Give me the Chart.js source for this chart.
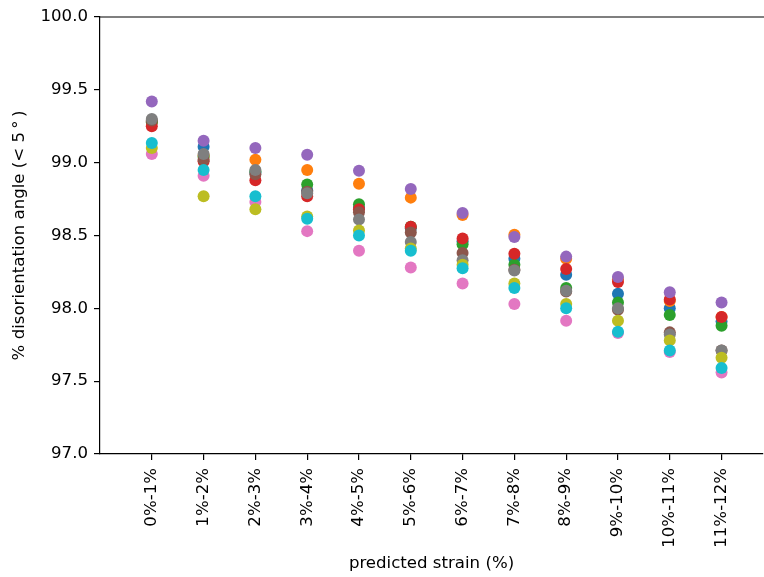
<!DOCTYPE html>
<html>
<head>
<meta charset="utf-8">
<script src="https://cdn.jsdelivr.net/npm/chart.js@4/dist/chart.umd.min.js"></script>
<style>
  html, body { margin: 0; padding: 0; background: #fff; }
  #wrap { width: 764px; height: 577px; }
</style>
</head>
<body>
<div id="wrap"><canvas id="chart" width="764" height="577"></canvas></div>
<script>
const categories = ['0%-1%', '1%-2%', '2%-3%', '3%-4%', '4%-5%', '5%-6%',
  '6%-7%', '7%-8%', '8%-9%', '9%-10%', '10%-11%', '11%-12%'];
const yTicks = [97.0, 97.5, 98.0, 98.5, 99.0, 99.5, 100.0];

// one array per run, tab10 colour order
const runBlue   = [99.28, 99.11, 98.93, 98.81, 98.69, 98.55, 98.46, 98.34, 98.23, 98.10, 98.00, 97.91];
const runOrange = [99.28, 99.05, 99.02, 98.95, 98.855, 98.76, 98.64, 98.505, 98.34, 98.20, 98.05, 97.94];
const runGreen  = [99.28, 99.04, 98.94, 98.85, 98.715, 98.56, 98.44, 98.30, 98.14, 98.04, 97.955, 97.88];
const runRed    = [99.25, 99.01, 98.88, 98.77, 98.68, 98.56, 98.48, 98.375, 98.27, 98.18, 98.06, 97.94];
const runPurple = [99.42, 99.15, 99.10, 99.055, 98.945, 98.82, 98.655, 98.49, 98.355, 98.215, 98.11, 98.04];
const runBrown  = [99.29, 99.02, 98.92, 98.80, 98.66, 98.52, 98.38, 98.265, 98.115, 97.99, 97.835, 97.71];
const runPink   = [99.06, 98.91, 98.73, 98.53, 98.395, 98.28, 98.17, 98.03, 97.915, 97.83, 97.70, 97.56];
const runGray   = [99.30, 99.06, 98.95, 98.79, 98.61, 98.455, 98.33, 98.26, 98.12, 98.00, 97.82, 97.71];
const runOlive  = [99.10, 98.77, 98.68, 98.63, 98.535, 98.41, 98.30, 98.17, 98.03, 97.915, 97.78, 97.66];
const runCyan   = [99.135, 98.95, 98.77, 98.615, 98.50, 98.395, 98.275, 98.14, 98.00, 97.84, 97.71, 97.59];

const runs = [runBlue, runOrange, runGreen, runRed, runPurple, runBrown, runPink, runGray, runOlive, runCyan];
const colors = ['#1f77b4', '#ff7f0e', '#2ca02c', '#d62728', '#9467bd',
  '#8c564b', '#e377c2', '#7f7f7f', '#bcbd22', '#17becf'];

Chart.defaults.font.family = "'DejaVu Sans', sans-serif";
Chart.defaults.font.size = 16.6;
Chart.defaults.color = '#000';

// matplotlib-style top spine (right one falls off the figure)
const topSpine = {
  id: 'topSpine',
  afterDraw(chart) {
    const { ctx, chartArea: a } = chart;
    ctx.save();
    ctx.strokeStyle = '#000';
    ctx.lineWidth = 1.2;
    ctx.beginPath();
    ctx.moveTo(a.left, a.top);
    ctx.lineTo(a.right + 2, a.top);
    ctx.stroke();
    ctx.restore();
  }
};

new Chart(document.getElementById('chart'), {
  type: 'scatter',
  data: {
    datasets: runs.map((vals, i) => ({
      label: 'run ' + i,
      data: vals.map((v, j) => ({ x: j, y: v })),
      backgroundColor: colors[i],
      borderWidth: 0,
      pointRadius: 6,
      order: runs.length - i
    }))
  },
  options: {
    responsive: false,
    animation: false,
    layout: { autoPadding: false, padding: { left: 0, top: 17, right: 1, bottom: 0 } },
    plugins: { legend: { display: false }, tooltip: { enabled: false } },
    scales: {
      x: {
        type: 'linear',
        min: -1,
        max: 11.8,
        afterBuildTicks: s => { s.ticks = categories.map((_, i) => ({ value: i })); },
        afterFit: s => { s.height = 123; s.paddingLeft = 0; s.paddingRight = 0; },
        ticks: {
          callback: v => categories[v] ?? '',
          minRotation: 90,
          maxRotation: 90,
          padding: 8,
          autoSkip: false
        },
        grid: { drawOnChartArea: false, drawTicks: true, tickLength: 6, color: '#000', lineWidth: 1.2 },
        border: { display: true, color: '#000', width: 1.2 },
        title: { display: true, text: 'predicted strain (%)', padding: { top: 0, bottom: 3 } }
      },
      y: {
        min: 97,
        max: 100,
        afterBuildTicks: s => { s.ticks = yTicks.map(v => ({ value: v })); },
        afterFit: s => { s.width = 100; s.paddingTop = 0; s.paddingBottom = 0; },
        ticks: { callback: v => Number(v).toFixed(1), padding: 6 },
        grid: { drawOnChartArea: false, drawTicks: true, tickLength: 6, color: '#000', lineWidth: 1.2 },
        border: { display: true, color: '#000', width: 1.2 },
        title: { display: true, text: '% disorientation angle (< 5\u2009\u00b0\u2009)', padding: { top: 10, bottom: 0 } }
      }
    }
  },
  plugins: [topSpine]
});
</script>
</body>
</html>
